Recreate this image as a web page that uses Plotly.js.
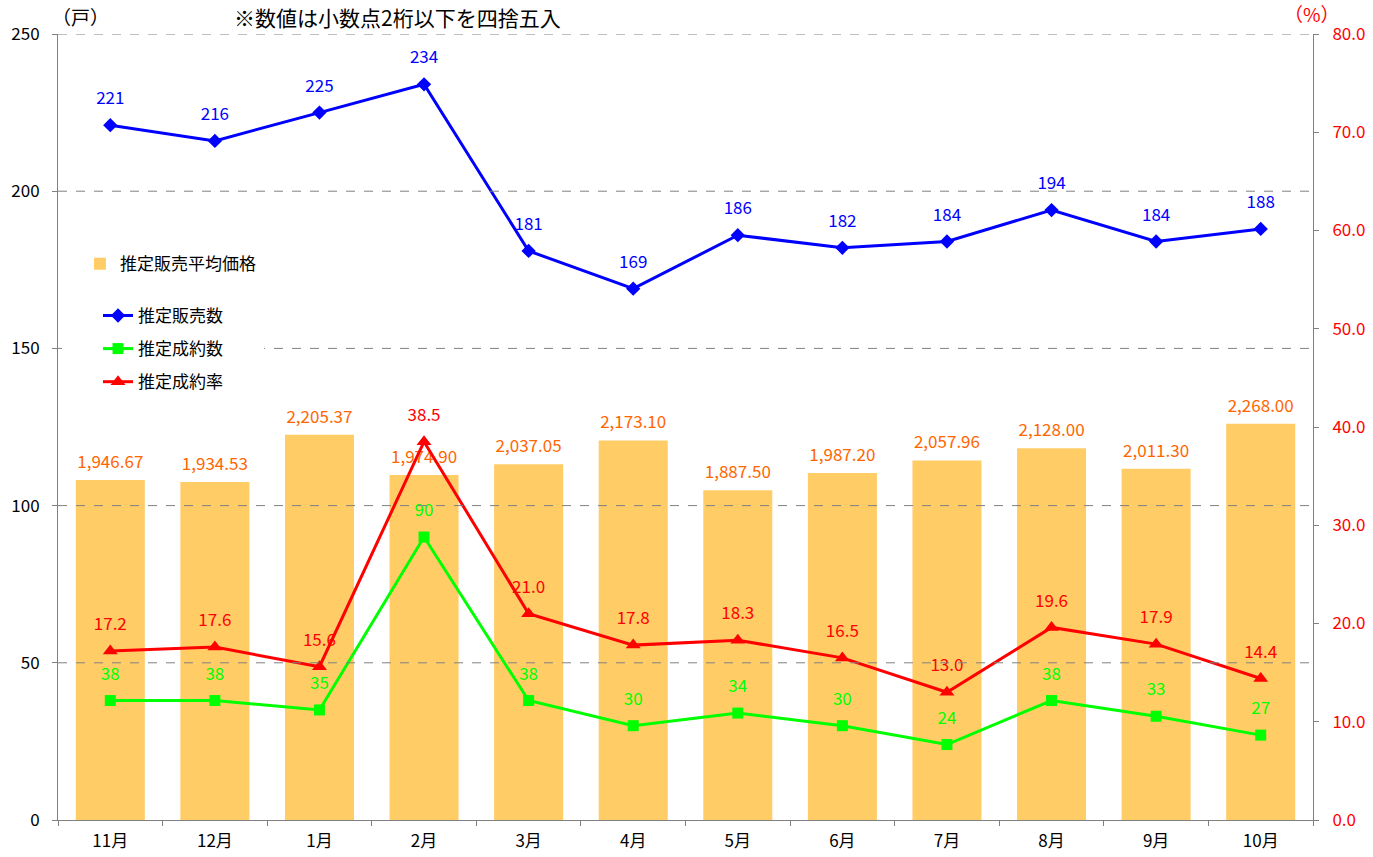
<!DOCTYPE html>
<html>
<head>
<meta charset="utf-8">
<script src="https://cdn.plot.ly/plotly-3.0.1.min.js"></script>
<style>html,body{margin:0;padding:0;background:#fff;}#chart{width:1373px;height:857px;}</style>
</head>
<body>
<div id="chart"></div>
<script>
const months = ['11月','12月','1月','2月','3月','4月','5月','6月','7月','8月','9月','10月'];
const avgPrice = [1946.67,1934.53,2205.37,1974.90,2037.05,2173.10,1887.50,1987.20,2057.96,2128.00,2011.30,2268.00];
const salesCount = [221,216,225,234,181,169,186,182,184,194,184,188];
const contractCount = [38,38,35,90,38,30,34,30,24,38,33,27];
const contractRate = [17.2,17.6,15.6,38.5,21.0,17.8,18.3,16.5,13.0,19.6,17.9,14.4];
const leftTicks = [0,50,100,150,200,250];
const gridVals = [50,100,150,200,250];

const FONT = '"Noto Sans CJK JP", "Noto Sans", sans-serif';
const GRAY = '#808080';
const LBL = 17;

function labelTrace(y, axis, texts, color, offsetSize) {
  return {
    type: 'scatter', mode: 'markers+text', x: months, y: y, yaxis: axis,
    marker: {size: offsetSize, opacity: 0, color: color},
    text: texts, textposition: 'top center',
    textfont: {color: color, size: LBL, family: FONT},
    cliponaxis: false, showlegend: false, hoverinfo: 'skip'
  };
}

const traces = [
  {
    type: 'bar', name: '推定販売平均価格', x: months, y: avgPrice, yaxis: 'y',
    marker: {color: '#FFCC66'}, width: 0.66,
    legend: 'legend2', hoverinfo: 'skip'
  },
  labelTrace(avgPrice, 'y',
    avgPrice.map(v => v.toLocaleString('en-US', {minimumFractionDigits: 2, maximumFractionDigits: 2})),
    '#FF6600', 11),
  {
    type: 'scatter', mode: 'lines+markers', name: '推定販売数', x: months, y: salesCount, yaxis: 'y2',
    line: {color: '#0000FF', width: 3}, marker: {symbol: 'diamond', size: 11, color: '#0000FF'},
    legendgroup: 'a', cliponaxis: false
  },
  labelTrace(salesCount, 'y2', salesCount.map(String), '#0000FF', 25),
  {
    type: 'scatter', mode: 'lines+markers', name: '推定成約数', x: months, y: contractCount, yaxis: 'y2',
    line: {color: '#00FF00', width: 3}, marker: {symbol: 'square', size: 11, color: '#00FF00'},
    legendgroup: 'b', cliponaxis: false
  },
  labelTrace(contractCount, 'y2', contractCount.map(String), '#00FF00', 25),
  {
    type: 'scatter', mode: 'lines+markers', name: '推定成約率', x: months, y: contractRate, yaxis: 'y3',
    line: {color: '#FF0000', width: 3}, marker: {symbol: 'triangle-up', size: 13, color: '#FF0000'},
    legendgroup: 'c', cliponaxis: false
  },
  labelTrace(contractRate, 'y3', contractRate.map(v => v.toFixed(1)), '#FF0000', 25)
];

const layout = {
  width: 1373, height: 857,
  margin: {l: 58, r: 60, t: 34, b: 37},
  paper_bgcolor: '#fff', plot_bgcolor: 'rgba(0,0,0,0)',
  font: {family: FONT, size: 17, color: '#000'},
  showlegend: true,
  xaxis: {
    type: 'category', range: [-0.5, 11.5], showline: true, linecolor: GRAY, linewidth: 1,
    ticks: 'outside', tickson: 'boundaries', ticklen: 5, tickcolor: GRAY,
    tickfont: {size: 17, color: '#000'}, ticklabelstandoff: 6, showgrid: false, fixedrange: true
  },
  yaxis: {range: [0, 4500], visible: false, showgrid: false, fixedrange: true},
  yaxis2: {
    overlaying: 'y', side: 'left', range: [0, 250], tickvals: leftTicks, showline: true,
    linecolor: GRAY, ticks: 'outside', ticklen: 5, tickcolor: GRAY, showgrid: false, zeroline: false,
    tickfont: {size: 17, color: '#000'}, ticklabelstandoff: 9, fixedrange: true
  },
  yaxis3: {
    overlaying: 'y', side: 'right', range: [0, 80], dtick: 10, tick0: 0, tickformat: '.1f',
    showline: true, linecolor: GRAY, ticks: 'outside', ticklen: 5, tickcolor: GRAY,
    showgrid: false, zeroline: false, tickfont: {size: 17, color: '#FF0000'}, ticklabelstandoff: 10,
    fixedrange: true
  },
  legend: {
    x: 0.0032, y: 0.71, xanchor: 'left', yanchor: 'top', bgcolor: '#fff',
    bordercolor: '#fff', borderwidth: 36,
    traceorder: 'grouped', tracegroupgap: 8, font: {size: 17, family: FONT}
  },
  legend2: {
    x: 0.0175, y: 0.73, xanchor: 'left', yanchor: 'top', bgcolor: 'rgba(255,255,255,0)',
    font: {size: 17, family: FONT}, itemwidth: 30
  },
  shapes: gridVals.map(v => ({
    type: 'line', xref: 'paper', x0: 0, x1: 1, yref: 'y2', y0: v, y1: v,
    line: {color: GRAY, width: 1, dash: 'dash'}, layer: 'above'
  })),
  annotations: [
    {xref: 'paper', yref: 'paper', x: -0.006, y: 1.022, text: '（戸）', showarrow: false,
     xanchor: 'left', yanchor: 'middle', font: {size: 19, color: '#000'}},
    {xref: 'paper', yref: 'paper', x: 0.1386, y: 1.022, text: '※数値は小数点2桁以下を四捨五入', showarrow: false,
     xanchor: 'left', yanchor: 'middle', font: {size: 21, color: '#000'}},
    {xref: 'paper', yref: 'paper', x: 1.023, y: 1.026, text: '（%）', showarrow: false,
     xanchor: 'right', yanchor: 'middle', font: {size: 19, color: '#FF0000'}}
  ]
};

Plotly.newPlot('chart', traces, layout, {displayModeBar: false, staticPlot: true});
</script>
</body>
</html>
